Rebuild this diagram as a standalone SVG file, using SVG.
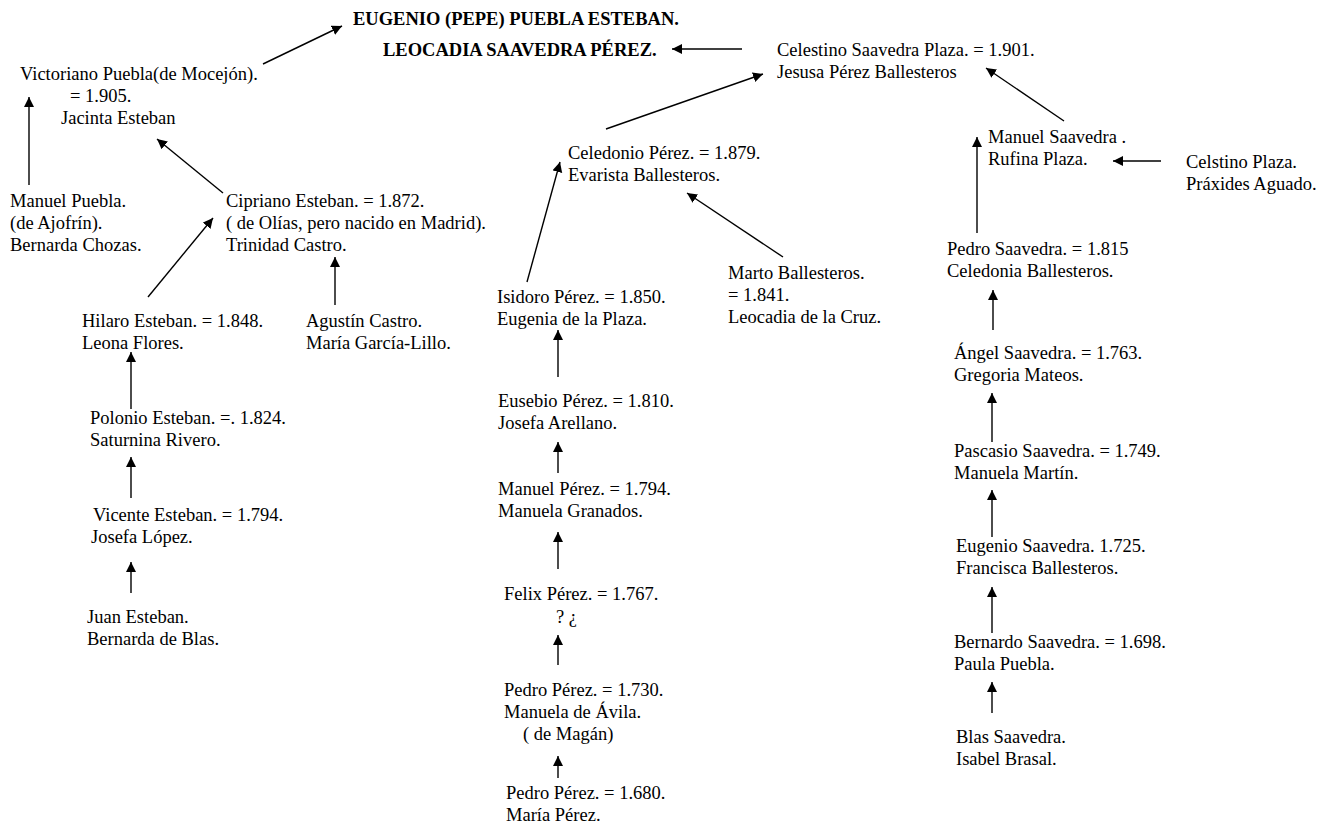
<svg xmlns="http://www.w3.org/2000/svg" width="1321" height="825" viewBox="0 0 1321 825">
<defs>
<style>
text{font-family:"Liberation Serif","Times New Roman",serif;font-size:18.5px;fill:#000}
.b{font-weight:bold}
.c line{stroke:#000;stroke-width:1.4;marker-end:url(#ah)}
</style>
<marker id="ah" markerUnits="userSpaceOnUse" markerWidth="11" markerHeight="11" refX="10" refY="5" orient="auto">
<path d="M0,0 L10,5 L0,10 z" fill="#000"/>
</marker>
</defs>
<rect width="1321" height="825" fill="#fff"/>
<g class="c" id="connectors">
<line x1="263" y1="64" x2="342" y2="26"/>
<line x1="29" y1="185" x2="29" y2="97"/>
<line x1="223" y1="193" x2="157" y2="139"/>
<line x1="148" y1="297" x2="213" y2="218"/>
<line x1="335" y1="305" x2="335" y2="257"/>
<line x1="131" y1="409" x2="131" y2="352"/>
<line x1="131" y1="498" x2="131" y2="457"/>
<line x1="131" y1="593" x2="131" y2="562"/>
<line x1="742" y1="49" x2="672" y2="49"/>
<line x1="606" y1="129" x2="763" y2="74"/>
<line x1="527" y1="282" x2="560" y2="162"/>
<line x1="783" y1="257" x2="687" y2="193"/>
<line x1="558" y1="377" x2="558" y2="330"/>
<line x1="558" y1="473" x2="558" y2="442"/>
<line x1="558" y1="569" x2="558" y2="532"/>
<line x1="558" y1="665" x2="558" y2="635"/>
<line x1="558" y1="778" x2="558" y2="756"/>
<line x1="1064" y1="121" x2="986" y2="68"/>
<line x1="977" y1="233" x2="977" y2="137"/>
<line x1="1161" y1="161" x2="1113" y2="161"/>
<line x1="993" y1="330" x2="993" y2="290"/>
<line x1="992" y1="442" x2="992" y2="393"/>
<line x1="992" y1="537" x2="992" y2="490"/>
<line x1="992" y1="633" x2="992" y2="587"/>
<line x1="992" y1="713" x2="992" y2="682"/>
</g>
<g id="eugenio"><text class="b" x="353" y="25">EUGENIO (PEPE) PUEBLA ESTEBAN.</text></g>
<g id="leocadia"><text class="b" x="383" y="56">LEOCADIA SAAVEDRA PÉREZ.</text></g>
<g id="victoriano">
<text x="20" y="80">Victoriano Puebla(de Mocejón).</text>
<text x="70" y="102">= 1.905.</text>
<text x="61" y="124">Jacinta Esteban</text>
</g>
<g id="manuel-puebla">
<text x="10" y="207">Manuel Puebla.</text>
<text x="10" y="229">(de Ajofrín).</text>
<text x="10" y="251">Bernarda Chozas.</text>
</g>
<g id="cipriano">
<text x="226" y="207">Cipriano Esteban. = 1.872.</text>
<text x="226" y="229">( de Olías, pero nacido en Madrid).</text>
<text x="226" y="251">Trinidad Castro.</text>
</g>
<g id="hilaro">
<text x="82" y="327">Hilaro Esteban. = 1.848.</text>
<text x="82" y="349">Leona Flores.</text>
</g>
<g id="agustin">
<text x="306" y="327">Agustín Castro.</text>
<text x="306" y="349">María García-Lillo.</text>
</g>
<g id="polonio">
<text x="90" y="424">Polonio Esteban. =. 1.824.</text>
<text x="90" y="446">Saturnina Rivero.</text>
</g>
<g id="vicente">
<text x="93" y="521">Vicente Esteban. = 1.794.</text>
<text x="91" y="543">Josefa López.</text>
</g>
<g id="juan">
<text x="87" y="623">Juan Esteban.</text>
<text x="87" y="645">Bernarda de Blas.</text>
</g>
<g id="celestino">
<text x="777" y="56">Celestino Saavedra Plaza. = 1.901.</text>
<text x="777" y="78">Jesusa Pérez Ballesteros</text>
</g>
<g id="celedonio">
<text x="568" y="159">Celedonio Pérez. = 1.879.</text>
<text x="568" y="181">Evarista Ballesteros.</text>
</g>
<g id="marto">
<text x="728" y="279">Marto Ballesteros.</text>
<text x="728" y="301">= 1.841.</text>
<text x="728" y="323">Leocadia de la Cruz.</text>
</g>
<g id="isidoro">
<text x="497" y="303">Isidoro Pérez. = 1.850.</text>
<text x="497" y="325">Eugenia de la Plaza.</text>
</g>
<g id="eusebio">
<text x="498" y="407">Eusebio Pérez. = 1.810.</text>
<text x="498" y="429">Josefa Arellano.</text>
</g>
<g id="manuel-perez">
<text x="498" y="495">Manuel Pérez. = 1.794.</text>
<text x="498" y="517">Manuela Granados.</text>
</g>
<g id="felix">
<text x="504" y="600">Felix Pérez. = 1.767.</text>
<text x="556" y="623">? ¿</text>
</g>
<g id="pedro-1730">
<text x="504" y="696">Pedro Pérez. = 1.730.</text>
<text x="504" y="718">Manuela de Ávila.</text>
<text x="523" y="740">( de Magán)</text>
</g>
<g id="pedro-1680">
<text x="506" y="799">Pedro Pérez. = 1.680.</text>
<text x="506" y="821">María Pérez.</text>
</g>
<g id="manuel-saavedra">
<text x="988" y="143">Manuel Saavedra .</text>
<text x="988" y="165">Rufina Plaza.</text>
</g>
<g id="celstino-plaza">
<text x="1186" y="168">Celstino Plaza.</text>
<text x="1186" y="190">Práxides Aguado.</text>
</g>
<g id="pedro-saavedra">
<text x="947" y="255">Pedro Saavedra. = 1.815</text>
<text x="947" y="277">Celedonia Ballesteros.</text>
</g>
<g id="angel">
<text x="954" y="359">Ángel Saavedra. = 1.763.</text>
<text x="954" y="381">Gregoria Mateos.</text>
</g>
<g id="pascasio">
<text x="954" y="457">Pascasio Saavedra. = 1.749.</text>
<text x="954" y="479">Manuela Martín.</text>
</g>
<g id="eugenio-saavedra">
<text x="956" y="552">Eugenio Saavedra. 1.725.</text>
<text x="956" y="574">Francisca Ballesteros.</text>
</g>
<g id="bernardo">
<text x="954" y="648">Bernardo Saavedra. = 1.698.</text>
<text x="954" y="670">Paula Puebla.</text>
</g>
<g id="blas">
<text x="956" y="743">Blas Saavedra.</text>
<text x="956" y="765">Isabel Brasal.</text>
</g>
</svg>
